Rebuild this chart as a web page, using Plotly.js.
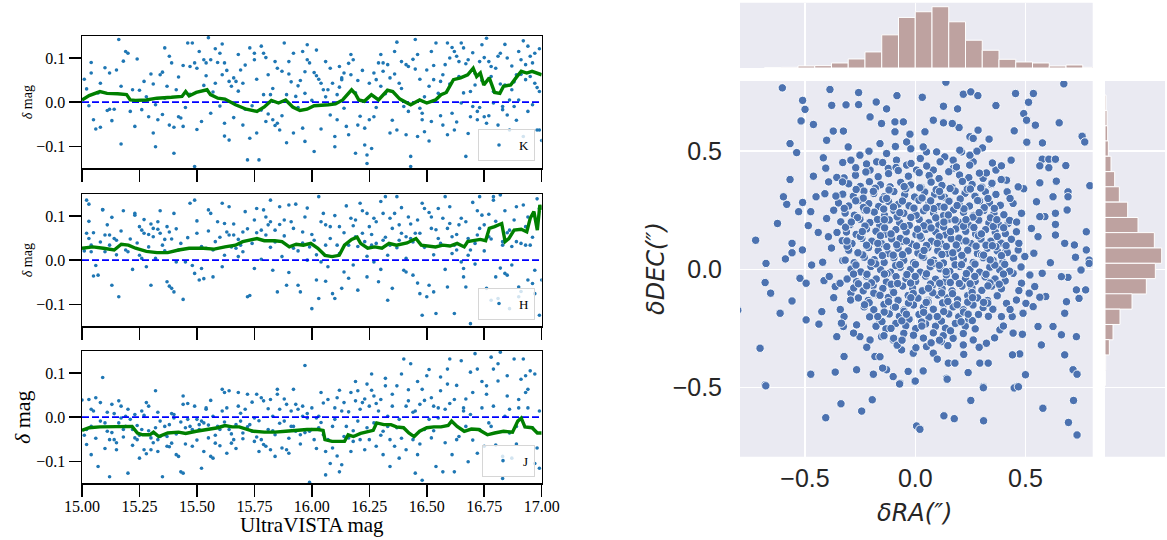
<!DOCTYPE html>
<html>
<head>
<meta charset="utf-8">
<script src="https://cdn.plot.ly/plotly-3.0.1.min.js"></script>
<style>html,body{margin:0;padding:0;background:#fff;}#chart{width:1167px;height:540px;}</style>
</head>
<body>
<div id="chart"></div>
<script>
// ---------------- DATA ----------------
const magTicks = [15.00, 15.25, 15.50, 15.75, 16.00, 16.25, 16.50, 16.75, 17.00];
const deltaTicks = [-0.1, 0.0, 0.1];
const deltaTickText = ['\u22120.1', '0.0', '0.1'];
const offsetTicks = [-0.5, 0.0, 0.5];
const offsetTickText = ['\u22120.5', '0.0', '0.5'];
const bandNames = ['K', 'H', 'J'];

// K band: individual stars
const kMag = [15.02,15.04,15.04,15.05,15.06,15.08,15.08,15.11,15.12,15.12,
15.14,15.15,15.16,15.17,15.18,15.19,15.20,15.22,15.23,15.25,
15.26,15.27,15.29,15.30,15.31,15.32,15.32,15.33,15.34,15.35,
15.36,15.36,15.37,15.38,15.39,15.40,15.40,15.41,15.42,15.43,
15.44,15.44,15.46,15.47,15.48,15.49,15.49,15.50,15.51,15.52,
15.53,15.54,15.54,15.55,15.56,15.57,15.58,15.59,15.60,15.61,
15.61,15.62,15.62,15.62,15.64,15.64,15.65,15.66,15.67,15.68,
15.69,15.70,15.70,15.71,15.72,15.73,15.73,15.75,15.75,15.76,
15.77,15.78,15.79,15.79,15.80,15.81,15.81,15.82,15.83,15.84,
15.84,15.85,15.86,15.87,15.88,15.89,15.89,15.90,15.90,15.92,
15.92,15.93,15.94,15.95,15.96,15.96,15.97,15.97,15.98,15.98,
15.99,16.01,16.01,16.02,16.03,16.04,16.05,16.06,16.07,16.08,
16.09,16.10,16.10,16.11,16.11,16.12,16.13,16.13,16.14,16.15,
16.16,16.17,16.17,16.18,16.19,16.20,16.20,16.23,16.23,16.24,
16.24,16.25,16.26,16.27,16.27,16.28,16.29,16.30,16.31,16.31,
16.33,16.34,16.34,16.36,16.37,16.37,16.38,16.39,16.40,16.41,
16.41,16.42,16.43,16.43,16.45,16.45,16.46,16.46,16.47,16.48,
16.48,16.49,16.50,16.51,16.52,16.52,16.53,16.54,16.55,16.56,
16.57,16.58,16.59,16.59,16.60,16.61,16.62,16.62,16.63,16.64,
16.65,16.65,16.66,16.67,16.68,16.69,16.69,16.70,16.71,16.72,
16.72,16.73,16.74,16.75,16.76,16.76,16.77,16.78,16.79,16.79,
16.81,16.82,16.83,16.83,16.84,16.85,16.86,16.86,16.87,16.88,
16.89,16.90,16.90,16.91,16.92,16.93,16.93,16.94,16.95,16.96,
16.97,16.97,16.98,16.99,16.99,
15.01,15.03,15.07,15.10,15.13,15.17,15.21,15.24,15.28,15.31,
15.35,15.38,15.42,15.45,15.47,15.50,15.53,15.56,15.58,15.60,
15.63,15.66,15.68,15.71,15.74,15.76,15.78,15.80,15.83,15.85,
15.87,15.91,15.94,15.97,16.00,16.02,16.04,16.06,16.08,16.12,
16.14,16.16,16.19,16.21,16.22,16.25,16.28,16.30,16.32,16.35,
16.36,16.39,16.42,16.44,16.47,16.49,16.51,16.53,16.56,16.57,
16.60,16.61,16.63,16.64,16.66,16.67,16.68,16.70,16.71,16.73,
16.74,16.75,16.77,16.78,16.80,16.81,16.82,16.84,16.85,16.87,
16.88,16.89,16.91,16.92,16.94,16.95,16.96,16.98,16.99,17.00];
const kDelta = [0.030,0.090,0.066,-0.040,-0.061,-0.057,0.043,-0.019,0.066,-0.016,
-0.016,0.073,0.142,-0.095,0.093,0.115,0.111,0.028,-0.055,0.027,
-0.017,0.047,-0.033,0.064,-0.070,-0.006,-0.101,-0.040,0.062,0.068,
0.123,0.009,0.036,-0.052,0.089,-0.057,-0.116,0.028,-0.033,-0.036,
0.083,-0.055,0.134,0.081,0.134,0.089,-0.146,0.077,0.115,-0.044,
0.096,0.060,0.089,0.146,0.096,0.023,0.043,0.090,0.111,0.132,
0.062,-0.048,0.089,-0.077,0.047,-0.086,0.036,0.055,0.047,0.108,
0.073,0.043,-0.052,-0.016,-0.131,0.123,-0.082,0.096,0.111,-0.070,
-0.131,0.127,0.017,0.111,-0.044,0.062,-0.027,0.017,-0.040,-0.053,
0.092,-0.048,-0.063,0.070,0.134,0.017,-0.092,0.092,0.064,0.111,
-0.070,0.013,0.037,0.049,0.115,-0.059,0.020,-0.089,0.096,0.130,
0.089,-0.112,0.067,0.060,0.052,0.043,0.028,0.092,0.028,0.077,
0.043,-0.078,-0.101,-0.040,0.017,0.081,0.055,0.051,0.066,-0.055,
-0.074,0.108,0.062,0.096,-0.116,0.049,-0.052,-0.059,-0.097,-0.120,
-0.139,-0.040,-0.105,-0.033,0.066,0.051,0.089,0.036,0.070,0.089,
0.085,-0.070,0.055,0.115,0.136,-0.063,0.043,0.092,-0.010,0.085,
-0.074,0.081,-0.123,-0.146,0.142,0.075,0.108,-0.078,-0.014,-0.040,
-0.025,-0.067,0.073,0.036,0.115,-0.044,0.051,0.134,0.020,0.047,
-0.052,0.085,0.134,-0.074,0.100,-0.025,-0.063,0.115,0.104,0.092,
0.134,-0.002,0.123,-0.123,0.096,0.024,-0.033,-0.010,0.039,-0.021,
-0.040,0.092,0.130,-0.033,0.145,-0.048,0.092,0.081,0.024,-0.002,
0.104,0.111,-0.010,-0.017,0.039,0.100,0.005,-0.063,0.028,-0.010,
0.062,0.005,0.115,0.096,-0.078,0.051,0.085,0.127,0.104,-0.006,
0.043,0.111,-0.063,0.024,-0.063,
0.052,-0.008,0.021,0.078,-0.042,0.036,-0.021,0.098,0.012,0.041,
-0.028,0.104,0.057,-0.012,0.018,-0.062,0.038,-0.025,0.121,-0.009,
0.072,-0.035,0.025,0.084,-0.008,0.052,-0.018,0.101,0.031,0.077,
-0.031,0.046,-0.012,0.069,0.004,0.118,-0.061,0.012,-0.029,0.034,
-0.014,0.088,0.021,-0.032,0.072,0.043,-0.012,0.108,0.019,-0.041,
0.064,0.031,-0.021,0.097,0.052,0.012,-0.088,0.083,-0.031,0.062,
0.041,0.124,-0.045,0.058,0.021,0.087,-0.071,0.112,0.065,-0.012,
0.049,0.101,-0.031,0.058,0.077,-0.052,0.041,0.131,-0.029,0.082,
0.046,-0.041,0.063,0.139,-0.021,0.058,0.089,0.033,0.121,-0.087];
// K band running median
const kMedMag = [15.000,15.031,15.078,15.109,15.155,15.194,15.210,15.233,15.280,15.326,
15.389,15.435,15.451,15.466,15.497,15.544,15.559,15.591,15.622,15.668,
15.715,15.761,15.793,15.824,15.855,15.886,15.917,15.948,15.979,16.010,
16.072,16.103,16.134,16.158,16.173,16.189,16.204,16.228,16.259,16.290,
16.313,16.329,16.352,16.383,16.430,16.469,16.500,16.538,16.562,16.585,
16.616,16.647,16.678,16.702,16.717,16.733,16.748,16.772,16.795,16.818,
16.834,16.865,16.888,16.911,16.935,16.958,17.000];
const kMedDelta = [0.005,0.015,0.024,0.020,0.019,0.017,0.005,0.004,0.005,0.009,
0.011,0.013,0.024,0.014,0.022,0.028,0.017,0.009,0.007,-0.006,
-0.016,-0.021,-0.011,0.004,-0.002,0.005,-0.011,-0.019,-0.016,-0.008,
-0.006,-0.004,0.005,0.020,0.028,0.019,0.005,0.002,0.017,0.005,
0.019,0.027,0.024,0.007,-0.006,0.005,-0.002,0.005,0.017,0.022,
0.051,0.055,0.062,0.077,0.058,0.066,0.039,0.055,0.022,0.020,
0.036,0.039,0.055,0.070,0.066,0.070,0.062];

// H band
const hMag = [15.02,15.03,15.02,15.03,15.04,15.04,15.05,15.07,15.09,15.09,
15.10,15.11,15.12,15.12,15.13,15.14,15.15,15.16,15.18,15.19,
15.20,15.23,15.23,15.24,15.25,15.26,15.26,15.27,15.28,15.29,
15.30,15.30,15.31,15.31,15.33,15.33,15.34,15.35,15.36,15.37,
15.37,15.38,15.38,15.39,15.40,15.40,15.41,15.42,15.44,15.45,
15.47,15.49,15.49,15.50,15.51,15.52,15.53,15.54,15.55,15.56,
15.57,15.58,15.59,15.61,15.61,15.62,15.63,15.64,15.65,15.66,
15.67,15.68,15.69,15.70,15.71,15.72,15.73,15.75,15.75,15.76,
15.78,15.79,15.80,15.81,15.82,15.82,15.83,15.84,15.85,15.86,
15.87,15.88,15.89,15.90,15.91,15.92,15.93,15.94,15.95,15.96,
15.97,15.98,15.99,16.00,16.01,16.02,16.03,16.03,16.04,16.05,
16.06,16.06,16.07,16.08,16.09,16.10,16.11,16.12,16.13,16.14,
16.15,16.16,16.17,16.18,16.19,16.19,16.20,16.21,16.22,16.23,
16.24,16.24,16.25,16.26,16.27,16.27,16.28,16.29,16.30,16.31,
16.31,16.32,16.33,16.34,16.34,16.35,16.36,16.37,16.38,16.38,
16.39,16.40,16.41,16.41,16.42,16.43,16.44,16.45,16.46,16.47,
16.48,16.48,16.49,16.50,16.51,16.52,16.52,16.53,16.54,16.55,
16.55,16.57,16.58,16.59,16.59,16.60,16.61,16.62,16.62,16.63,
16.64,16.65,16.66,16.66,16.67,16.68,16.69,16.69,16.71,16.72,
16.72,16.73,16.74,16.75,16.76,16.77,16.78,16.79,16.79,16.80,
16.81,16.82,16.83,16.83,16.84,16.85,16.86,16.86,16.87,16.88,
16.89,16.90,16.90,16.91,16.92,16.93,16.93,16.94,16.95,16.96,
16.97,16.97,16.98,16.99,16.99,17.00,
15.01,15.03,15.05,15.06,15.08,15.10,15.13,15.15,15.17,15.21,
15.22,15.25,15.27,15.29,15.32,15.34,15.36,15.39,15.41,15.43,
15.46,15.48,15.50,15.52,15.55,15.57,15.60,15.62,15.64,15.66,
15.68,15.70,15.72,15.74,15.76,15.78,15.80,15.82,15.84,15.86,
15.88,15.90,15.92,15.94,15.96,15.98,16.00,16.02,16.04,16.06,
16.08,16.10,16.12,16.14,16.16,16.18,16.20,16.22,16.24,16.26,
16.28,16.30,16.32,16.33,16.35,16.37,16.39,16.41,16.43,16.44,
16.46,16.47,16.49,16.51,16.53,16.54,16.56,16.58,16.60,16.61,
16.63,16.65,16.67,16.68,16.70,16.71,16.73,16.75,16.77,16.78,
16.80,16.82,16.84,16.85,16.87,16.89,16.91,16.94,16.96,16.98];
const hDelta = [0.136,0.127,0.061,0.049,0.034,0.019,-0.036,-0.034,0.115,0.114,
0.057,0.080,0.034,0.057,-0.057,0.049,0.045,-0.083,0.112,0.023,
0.019,0.106,0.102,0.039,0.076,0.068,0.004,0.061,-0.015,0.030,
-0.057,0.082,0.053,0.072,0.087,0.070,0.061,0.034,0.047,-0.049,
0.076,0.064,-0.059,-0.064,-0.072,0.106,-0.004,0.023,-0.089,-0.004,
0.129,0.136,-0.030,0.061,-0.045,-0.019,-0.042,0.027,0.114,0.106,
0.023,0.042,0.087,-0.015,0.129,0.083,0.064,0.057,0.030,0.057,
0.027,0.008,0.034,0.064,0.110,-0.083,-0.080,0.091,-0.019,0.117,
0.068,0.114,0.057,0.080,0.087,0.136,-0.023,0.068,-0.072,0.121,
0.008,0.091,-0.057,0.125,0.087,0.027,0.127,-0.057,-0.072,0.064,
0.098,0.000,0.030,-0.110,0.045,-0.045,0.144,-0.087,-0.004,0.106,
0.080,0.034,-0.015,0.076,-0.076,-0.087,0.034,0.076,-0.064,-0.027,
0.123,0.034,0.095,-0.011,0.053,0.091,-0.068,0.129,0.061,0.042,
0.106,-0.038,0.076,0.034,-0.004,0.095,0.038,-0.049,0.133,0.045,
0.106,0.144,-0.091,0.034,0.095,-0.064,0.106,0.144,0.045,0.080,
0.061,-0.023,-0.027,0.053,0.098,0.049,-0.034,0.061,0.091,-0.076,
-0.125,0.129,0.117,-0.083,-0.057,0.072,0.098,-0.072,-0.121,0.049,
0.117,0.095,0.144,-0.061,0.072,0.083,0.053,0.034,-0.121,0.023,
0.080,-0.004,-0.038,-0.019,0.087,0.011,-0.144,0.023,0.038,0.057,
0.112,0.144,0.102,0.080,-0.064,0.053,-0.091,0.136,0.144,-0.038,
-0.087,0.148,0.042,0.034,-0.030,-0.034,-0.110,0.068,-0.011,0.091,
0.042,-0.061,-0.083,0.038,0.125,0.034,0.076,-0.045,0.034,-0.053,
-0.076,-0.023,0.083,0.117,-0.125,-0.045,
0.021,0.088,0.062,-0.012,0.041,0.019,0.097,0.012,0.066,0.048,
-0.021,0.011,0.092,0.058,0.004,0.112,0.021,0.048,0.071,0.038,
0.051,-0.012,0.089,0.031,0.066,-0.038,0.052,0.011,0.121,0.082,
0.047,0.019,0.071,0.038,0.062,0.002,0.098,0.029,0.041,0.081,
0.055,-0.028,0.072,0.021,0.039,0.118,0.058,0.012,0.087,-0.048,
0.049,0.101,0.015,0.062,-0.041,0.078,0.031,0.112,0.009,0.058,
0.087,-0.021,0.052,0.011,0.072,0.028,0.119,0.004,0.082,0.041,
-0.052,0.061,0.029,0.108,0.012,0.069,0.038,-0.021,0.121,0.015,
0.058,0.095,-0.061,0.049,0.131,-0.009,0.072,0.021,0.104,0.048,
0.088,-0.018,0.112,0.062,0.031,0.121,-0.071,0.098,0.052,0.139];
const hMedMag = [15.000,15.047,15.093,15.140,15.171,15.202,15.233,15.280,15.326,15.373,
15.420,15.466,15.528,15.575,15.622,15.668,15.699,15.730,15.761,15.793,
15.839,15.870,15.902,15.932,15.963,15.995,16.026,16.057,16.088,16.119,
16.142,16.173,16.197,16.212,16.243,16.274,16.305,16.336,16.368,16.414,
16.453,16.476,16.507,16.538,16.570,16.601,16.632,16.663,16.678,16.709,
16.733,16.756,16.772,16.795,16.826,16.841,16.857,16.880,16.911,16.935,
16.950,16.966,16.981,16.992,17.000];
const hMedDelta = [0.027,0.030,0.027,0.023,0.036,0.034,0.027,0.020,0.017,0.017,
0.023,0.027,0.027,0.025,0.030,0.034,0.042,0.045,0.049,0.044,
0.044,0.042,0.030,0.036,0.034,0.038,0.027,0.011,0.008,0.011,
0.034,0.047,0.052,0.038,0.027,0.030,0.027,0.038,0.034,0.039,
0.049,0.034,0.032,0.030,0.034,0.032,0.038,0.030,0.042,0.045,
0.047,0.044,0.072,0.076,0.083,0.042,0.049,0.068,0.070,0.064,
0.095,0.110,0.068,0.125,0.114];

// J band
const jMag = [15.00,15.02,15.03,15.04,15.04,15.05,15.06,15.07,15.08,15.09,
15.10,15.11,15.12,15.12,15.13,15.14,15.14,15.15,15.16,15.16,
15.17,15.18,15.19,15.19,15.20,15.21,15.22,15.23,15.23,15.24,
15.25,15.26,15.26,15.27,15.28,15.29,15.30,15.30,15.31,15.32,
15.32,15.33,15.33,15.34,15.35,15.36,15.37,15.37,15.38,15.39,
15.40,15.40,15.41,15.42,15.43,15.44,15.44,15.44,15.45,15.46,
15.47,15.48,15.49,15.50,15.51,15.51,15.52,15.53,15.54,15.54,
15.55,15.56,15.57,15.57,15.58,15.59,15.60,15.61,15.61,15.62,
15.63,15.64,15.64,15.65,15.66,15.67,15.68,15.68,15.69,15.70,
15.71,15.72,15.73,15.74,15.75,15.75,15.76,15.77,15.78,15.78,
15.79,15.80,15.81,15.82,15.82,15.83,15.84,15.85,15.85,15.86,
15.87,15.88,15.89,15.89,15.90,15.91,15.92,15.92,15.93,15.94,
15.95,15.96,15.96,15.97,15.98,15.99,15.99,16.00,16.01,16.02,
16.03,16.03,16.04,16.05,16.06,16.06,16.07,16.08,16.09,16.10,
16.10,16.11,16.12,16.13,16.13,16.14,16.15,16.16,16.17,16.17,
16.18,16.19,16.20,16.20,16.21,16.22,16.23,16.24,16.24,16.25,
16.26,16.27,16.27,16.28,16.29,16.30,16.31,16.31,16.32,16.33,
16.34,16.34,16.35,16.36,16.37,16.38,16.38,16.39,16.40,16.41,
16.41,16.42,16.43,16.44,16.45,16.45,16.46,16.47,16.48,16.48,
16.49,16.50,16.51,16.52,16.52,16.53,16.54,16.55,16.55,16.56,
16.57,16.58,16.59,16.59,16.60,16.61,16.62,16.62,16.63,16.64,
16.65,16.66,16.66,16.67,16.68,16.69,16.69,16.70,16.71,16.72,
16.72,16.73,16.74,16.75,16.76,16.76,16.77,16.78,16.79,16.79,
16.80,16.81,16.82,16.83,16.83,16.84,16.85,16.86,16.86,16.87,
16.88,16.89,16.90,16.90,16.91,16.92,16.93,16.93,16.94,16.95,
16.96,16.97,16.97,16.98,16.99,16.99,
15.01,15.02,15.04,15.06,15.08,15.10,15.11,15.13,15.15,15.17,
15.18,15.20,15.22,15.24,15.25,15.27,15.28,15.29,15.31,15.33,
15.34,15.36,15.38,15.39,15.41,15.43,15.45,15.46,15.48,15.50,
15.52,15.53,15.55,15.56,15.58,15.60,15.62,15.63,15.65,15.67,
15.69,15.70,15.72,15.74,15.76,15.77,15.79,15.81,15.83,15.84,
15.86,15.88,15.90,15.91,15.93,15.95,15.97,15.98,16.00,16.02,
16.04,16.05,16.07,16.09,16.11,16.12,16.14,16.16,16.18,16.19,
16.21,16.23,16.25,16.26,16.28,16.30,16.32,16.33,16.35,16.37,
16.39,16.42,16.44,16.46,16.47,16.49,16.51,16.53,16.56,16.58,
16.60,16.63,16.67,16.70,16.74,16.78,16.81,16.85,16.89,16.94];
const jDelta = [0.039,-0.028,0.040,0.018,-0.085,0.014,0.044,-0.112,0.033,0.090,
-0.013,-0.032,-0.051,-0.135,0.029,0.008,-0.051,-0.074,0.037,-0.013,
0.025,-0.028,-0.021,0.002,-0.127,-0.005,-0.028,-0.047,0.006,-0.051,
-0.093,0.014,-0.028,-0.074,0.033,0.025,-0.047,-0.074,-0.036,-0.024,
0.060,-0.051,-0.078,-0.009,-0.135,-0.040,-0.044,-0.066,-0.017,-0.059,
0.006,-0.002,-0.085,-0.089,-0.124,0.048,0.029,-0.127,-0.024,-0.005,
-0.021,-0.066,0.025,-0.005,-0.028,-0.017,-0.116,-0.013,0.018,0.021,
-0.047,-0.089,-0.093,0.002,-0.059,-0.021,-0.028,0.014,0.063,0.056,
-0.082,-0.028,0.060,-0.059,-0.051,-0.017,0.056,0.025,-0.009,-0.036,
0.018,0.052,-0.017,-0.032,-0.055,-0.002,0.052,-0.078,-0.051,0.044,
0.037,-0.066,-0.028,-0.074,0.040,0.002,-0.040,0.063,0.052,0.018,
-0.070,-0.009,-0.074,0.029,-0.082,0.014,-0.021,0.063,-0.032,0.018,
-0.040,0.002,0.025,0.117,-0.002,-0.032,-0.148,0.021,-0.051,-0.002,
-0.024,0.002,0.056,-0.040,-0.131,-0.078,0.040,-0.105,-0.070,0.021,
-0.005,0.044,-0.124,0.014,-0.108,0.033,-0.021,-0.047,-0.078,0.056,
-0.055,0.037,-0.009,0.060,-0.051,0.033,-0.074,-0.024,0.075,0.025,
0.098,0.048,-0.013,-0.066,0.014,0.040,-0.085,-0.032,0.071,0.002,
-0.051,-0.112,0.025,-0.066,-0.024,-0.005,-0.093,0.098,0.132,0.025,
-0.074,0.037,0.121,-0.051,0.014,-0.127,-0.085,0.029,-0.143,0.063,
-0.028,0.094,-0.005,-0.047,0.044,0.025,-0.112,0.021,-0.002,0.060,
-0.124,0.018,0.075,0.109,0.132,-0.085,-0.124,0.040,-0.051,-0.044,
0.128,0.014,0.021,-0.021,-0.101,0.102,0.006,0.056,0.144,0.109,
-0.082,-0.028,0.021,-0.066,0.071,0.052,-0.013,0.136,0.109,0.025,
-0.063,0.082,0.147,-0.089,-0.139,0.002,0.094,0.018,-0.036,-0.093,
0.132,-0.021,0.040,0.021,0.086,0.132,0.056,0.094,0.063,0.105,
-0.024,-0.105,0.098,-0.070,0.014,-0.116,
-0.041,-0.062,-0.021,-0.048,-0.009,-0.071,0.011,-0.035,-0.058,-0.002,
-0.045,0.018,-0.064,-0.019,-0.041,0.004,-0.083,-0.031,-0.058,0.011,
-0.044,-0.021,-0.067,0.008,-0.038,-0.011,-0.061,0.031,-0.028,-0.052,
-0.009,-0.078,-0.018,0.038,-0.041,-0.065,-0.011,0.021,-0.038,-0.071,
0.009,-0.049,-0.022,0.034,-0.045,-0.008,-0.062,0.019,-0.031,-0.089,
-0.014,0.041,-0.048,-0.021,0.029,-0.061,-0.035,0.008,-0.028,-0.071,
-0.012,0.032,-0.051,-0.021,-0.088,0.061,-0.044,0.012,-0.031,0.081,
0.018,0.041,-0.051,0.061,0.031,-0.041,0.088,-0.021,0.052,0.071,
-0.048,0.062,0.011,0.081,-0.061,0.038,0.108,-0.031,0.091,-0.058,
0.031,0.072,0.041,-0.052,0.081,-0.021,0.121,0.048,-0.061,0.021];
const jMedMag = [15.000,15.031,15.078,15.124,15.171,15.218,15.241,15.264,15.295,15.311,
15.334,15.373,15.420,15.451,15.497,15.544,15.591,15.622,15.653,15.684,
15.715,15.746,15.793,15.839,15.886,15.932,15.979,16.026,16.049,16.057,
16.088,16.119,16.142,16.158,16.181,16.212,16.243,16.267,16.282,16.313,
16.344,16.368,16.399,16.422,16.445,16.469,16.500,16.531,16.562,16.593,
16.608,16.632,16.663,16.694,16.725,16.764,16.795,16.834,16.873,16.896,
16.911,16.927,16.958,16.981,17.000];
const jMedDelta = [-0.030,-0.024,-0.022,-0.022,-0.022,-0.021,-0.036,-0.040,-0.040,-0.034,
-0.044,-0.036,-0.034,-0.037,-0.032,-0.028,-0.024,-0.019,-0.022,-0.022,
-0.028,-0.032,-0.034,-0.034,-0.032,-0.030,-0.028,-0.028,-0.030,-0.051,
-0.055,-0.055,-0.055,-0.040,-0.044,-0.037,-0.034,-0.030,-0.013,-0.017,
-0.017,-0.022,-0.024,-0.036,-0.044,-0.032,-0.024,-0.022,-0.022,-0.019,
-0.009,-0.021,-0.032,-0.027,-0.028,-0.040,-0.036,-0.032,-0.034,-0.009,
-0.002,-0.022,-0.024,-0.036,-0.036];

// Astrometric offsets (arcsec)
const dRA = [-0.603,-0.511,-0.500,-0.518,-0.462,-0.387,-0.379,-0.314,-0.257,-0.257,
-0.177,-0.130,-0.083,0.032,0.139,0.128,0.192,0.218,0.252,0.284,
0.366,0.455,0.536,0.514,0.674,0.492,0.505,0.545,0.449,0.653,
0.757,0.769,0.506,0.577,0.285,0.199,0.128,0.082,0.168,0.335,
0.305,0.366,0.391,0.435,0.576,0.606,0.636,0.565,0.606,0.683,
0.792,0.693,0.693,0.640,0.565,0.492,0.625,0.550,0.636,0.588,
0.636,0.776,0.689,0.636,0.678,0.722,0.776,0.789,0.789,0.727,
0.752,0.693,0.663,0.613,0.576,0.542,0.592,0.731,0.773,0.743,
0.686,0.678,0.625,0.557,0.572,0.663,0.731,0.678,0.716,0.734,
0.500,0.474,0.441,0.486,0.384,0.391,0.459,0.502,0.459,0.308,
0.293,0.331,0.240,0.150,0.142,0.036,-0.002,-0.032,-0.069,-0.100,
-0.130,-0.190,-0.148,-0.183,-0.266,-0.323,-0.363,-0.474,-0.356,-0.326,
-0.424,-0.495,-0.437,-0.613,-0.704,-0.681,-0.656,-0.681,-0.677,-0.724,
-0.625,-0.589,-0.559,-0.559,-0.559,-0.523,-0.495,-0.470,-0.512,-0.485,
-0.511,-0.529,-0.583,-0.598,-0.568,-0.538,-0.568,-0.462,-0.450,-0.474,
-0.417,-0.406,-0.402,-0.372,-0.326,-0.329,-0.304,-0.292,-0.251,-0.323,
-0.356,-0.393,-0.402,-0.394,-0.440,-0.355,-0.329,-0.363,-0.414,-0.341,
-0.292,-0.293,-0.323,-0.335,-0.266,-0.205,-0.251,-0.153,-0.100,-0.062,
-0.009,0.051,0.082,0.119,0.180,0.218,0.263,0.323,0.444,0.440,
0.414,0.489,0.535,0.517,0.565,0.482,0.444,0.520,0.497,0.538,
0.467,0.411,0.527,0.459,0.557,0.482,0.444,0.421,0.565,0.417,
0.414,0.467,0.346,0.308,0.323,0.263,0.248,0.210,0.172,0.134,
0.097,0.051,0.023,-0.039,-0.085,-0.130,-0.122,-0.175,-0.205,0.036,
0.006,0.082,0.172,-0.160,-0.092,-0.039,-0.153,-0.092,-0.054,-0.205,
-0.024,0.044,0.248,0.202,0.263,
-0.678,-0.406,-0.337,-0.243,-0.195,-0.071,0.000,0.006,0.021,0.130,
0.177,0.252,0.309,0.310,0.449,0.468,0.579,0.718,0.695,0.734,0.145,-0.805,
-0.221,-0.148,-0.087,-0.019,0.052,0.113,0.187,0.247,
-0.271,-0.224,-0.168,-0.121,-0.077,-0.031,0.018,0.063,0.108,0.152,0.201,0.243,0.291,
-0.302,-0.249,-0.208,-0.158,-0.114,-0.066,-0.021,0.027,0.072,0.121,0.167,0.214,0.258,0.302,0.348,
-0.329,-0.281,-0.233,-0.188,-0.142,-0.097,-0.048,-0.003,0.043,0.088,0.133,0.181,0.226,0.271,0.318,0.366,
-0.348,-0.302,-0.257,-0.211,-0.166,-0.121,-0.076,-0.028,0.017,0.062,0.108,0.153,0.199,0.246,0.292,0.337,0.386,
-0.318,-0.276,-0.231,-0.186,-0.139,-0.097,-0.052,-0.008,0.038,0.083,0.128,0.174,0.219,0.265,0.311,0.357,0.402,
-0.338,-0.296,-0.251,-0.206,-0.161,-0.118,-0.071,-0.027,0.018,0.061,0.107,0.152,0.197,0.243,0.288,0.334,0.379,0.428,
-0.312,-0.268,-0.221,-0.178,-0.132,-0.088,-0.041,0.003,0.048,0.093,0.138,0.184,0.229,0.274,0.319,0.363,0.409,
-0.331,-0.287,-0.242,-0.197,-0.152,-0.107,-0.062,-0.017,0.028,0.073,0.118,0.163,0.208,0.253,0.298,0.343,0.389,0.436,
-0.302,-0.258,-0.212,-0.168,-0.122,-0.078,-0.032,0.012,0.057,0.102,0.147,0.192,0.238,0.282,0.327,0.372,0.418,
-0.318,-0.277,-0.231,-0.186,-0.141,-0.097,-0.052,-0.007,0.038,0.083,0.128,0.173,0.218,0.263,0.308,0.353,0.398,0.447,
-0.291,-0.247,-0.201,-0.157,-0.112,-0.068,-0.022,0.023,0.068,0.113,0.157,0.202,0.248,0.292,0.338,0.383,0.428,
-0.309,-0.266,-0.221,-0.177,-0.131,-0.087,-0.042,0.002,0.047,0.092,0.137,0.182,0.228,0.272,0.317,0.362,0.408,
-0.279,-0.236,-0.191,-0.147,-0.101,-0.057,-0.012,0.032,0.077,0.122,0.167,0.212,0.257,0.302,0.347,0.391,
-0.258,-0.213,-0.168,-0.122,-0.078,-0.032,0.012,0.058,0.102,0.147,0.192,0.238,0.283,0.328,0.372,
-0.232,-0.188,-0.142,-0.098,-0.052,-0.008,0.037,0.082,0.127,0.172,0.218,0.262,0.308,0.352,
-0.207,-0.163,-0.118,-0.072,-0.028,0.017,0.062,0.107,0.152,0.197,0.242,0.287,0.332,
-0.178,-0.133,-0.088,-0.043,0.002,0.047,0.092,0.137,0.182,0.227,0.272,
-0.142,-0.098,-0.052,-0.008,0.037,0.082,0.127,0.172,0.218,
-0.082,0.003,0.072,0.148,
-0.236,-0.147,-0.058,0.031,0.118,0.204,0.283,
-0.262,-0.171,-0.082,0.004,0.093,0.181,0.262,0.341,
-0.249,-0.158,-0.068,0.022,0.109,0.198,0.287,0.372,
-0.238,-0.149,-0.058,0.031,0.121,0.211,0.301,0.391,
-0.219,-0.128,-0.038,0.051,0.141,0.232,0.321,
-0.188,-0.098,-0.009,0.079,0.169,0.258,
-0.141,-0.051,0.038,0.129,0.219,
-0.268,-0.181,-0.119,-0.043,0.021,0.095,0.158,0.236,0.297,
-0.322,-0.235,-0.143,-0.099,-0.006,0.084,0.131,0.221,0.313,0.359,
-0.316,-0.228,-0.139,-0.052,0.039,0.072,0.129,0.219,0.266,0.354,0.401,
-0.309,-0.221,-0.129,-0.084,0.006,0.051,0.141,0.186,0.276,0.321,0.366,0.412,
-0.269,-0.179,-0.089,0.001,0.091,0.109,0.181,0.271,0.361,0.406,
-0.258,-0.199,-0.109,-0.021,0.069,0.111,0.159,0.249,0.339,0.381,
-0.209,-0.121,-0.031,0.058,0.124,0.148,0.238,0.329,
-0.151,-0.061,0.029,0.119,0.208,0.259,
-0.370,-0.410,-0.380,-0.420,-0.390,-0.370,-0.340,-0.280,-0.220,-0.160,
0.100,0.220,0.290,0.360,0.400,0.430,0.470,0.480,0.470,0.460,
0.430,0.390,0.350,0.280,-0.020,-0.090,-0.210,-0.270,-0.330,-0.360,
-0.190,-0.050,0.110,0.250,-0.270,-0.130,0.070,0.190,0.330,-0.220,
-0.070,0.050,0.150,0.290,-0.290,-0.140,-0.020,0.130,0.230,0.370,
-0.240,-0.110,0.010,0.160,0.300,-0.310,-0.170,-0.040,0.100,0.230,
0.350,-0.260,-0.100,0.040,0.170,0.310,-0.200,-0.070,0.070,0.210,
0.340,-0.280,-0.140,0.000,0.140,0.270,0.400,-0.220,-0.080,0.060,
0.200,0.330,-0.160,-0.020,0.120,0.260,-0.230,-0.090,0.050,0.190,
0.310,-0.170,-0.040,0.100,0.240,-0.110,0.030,0.160,-0.060,0.110];
const dDEC = [0.768,0.715,0.677,0.628,0.613,0.761,0.694,0.696,0.748,0.697,
0.708,0.679,0.735,0.728,0.792,0.690,0.679,0.741,0.751,0.735,
0.693,0.744,0.744,0.707,0.785,0.659,0.631,0.610,0.586,0.620,
0.563,0.539,0.538,0.535,0.589,0.600,0.620,0.631,0.617,0.551,
0.514,0.420,0.438,0.462,0.466,0.466,0.466,0.438,0.430,0.439,
0.354,0.328,0.307,0.373,0.366,0.341,0.307,0.286,0.237,0.223,
0.190,0.159,0.251,0.145,0.110,0.103,0.082,0.039,0.025,0.051,
-0.003,-0.034,-0.031,0.028,-0.017,-0.073,-0.115,-0.087,-0.087,-0.123,
-0.137,-0.186,-0.242,-0.242,-0.320,-0.277,-0.285,-0.362,-0.425,-0.444,
-0.446,-0.358,-0.362,-0.275,-0.256,-0.200,-0.130,-0.144,-0.496,-0.496,
-0.397,-0.397,-0.437,-0.397,-0.461,-0.430,-0.475,-0.432,-0.482,-0.454,
-0.425,-0.444,-0.418,-0.369,-0.425,-0.369,-0.435,-0.444,-0.285,-0.242,
-0.179,-0.214,-0.232,-0.186,-0.334,-0.489,-0.101,-0.056,0.025,0.123,
0.194,0.044,0.070,0.110,-0.134,-0.038,-0.059,0.018,0.082,0.185,
0.283,0.244,0.275,0.307,0.380,0.494,0.532,0.394,0.307,0.244,
0.472,0.428,0.546,0.585,0.585,0.452,0.518,0.462,0.483,0.387,
0.389,0.370,0.215,0.138,0.156,0.156,0.037,-0.073,-0.048,-0.059,
-0.101,-0.130,-0.200,-0.228,-0.235,-0.299,-0.285,-0.285,-0.299,-0.341,
-0.355,-0.327,-0.355,-0.306,-0.397,-0.320,-0.299,-0.313,-0.270,-0.200,
-0.144,-0.186,-0.158,-0.101,-0.118,-0.059,-0.017,-0.024,0.054,0.068,
0.082,0.075,0.173,0.159,0.138,0.237,0.279,0.194,0.223,0.328,
0.377,0.349,0.359,0.385,0.408,0.455,0.483,0.497,0.462,0.476,
0.497,0.497,0.469,0.441,0.462,0.490,0.427,0.455,0.420,0.518,
0.420,0.420,0.427,0.532,0.582,0.539,0.617,0.624,0.624,0.645,
0.572,0.582,0.561,0.504,0.554,
-0.493,-0.628,-0.569,-0.600,-0.552,-0.485,-0.473,-0.663,-0.677,-0.620,
-0.632,-0.555,-0.501,-0.641,-0.502,-0.497,-0.588,-0.555,-0.648,-0.701,-0.465,-0.173,
0.446,0.452,0.431,0.448,0.437,0.455,0.433,0.441,
0.398,0.412,0.392,0.405,0.418,0.394,0.409,0.397,0.384,0.413,0.399,0.388,0.407,
0.362,0.351,0.371,0.358,0.349,0.368,0.357,0.346,0.369,0.355,0.347,0.372,0.359,0.348,0.364,
0.318,0.309,0.331,0.321,0.307,0.329,0.316,0.306,0.327,0.318,0.305,0.331,0.322,0.309,0.328,0.317,
0.281,0.268,0.291,0.278,0.266,0.287,0.276,0.269,0.292,0.279,0.266,0.288,0.277,0.268,0.289,0.281,0.271,
0.238,0.229,0.251,0.242,0.228,0.249,0.237,0.226,0.248,0.239,0.227,0.252,0.241,0.228,0.249,0.236,0.231,
0.201,0.189,0.212,0.198,0.187,0.209,0.198,0.186,0.211,0.197,0.188,0.212,0.199,0.187,0.208,0.196,0.189,0.207,
0.158,0.148,0.171,0.161,0.149,0.168,0.159,0.147,0.169,0.158,0.146,0.171,0.161,0.149,0.168,0.157,0.151,
0.121,0.109,0.131,0.119,0.108,0.129,0.118,0.107,0.132,0.119,0.108,0.129,0.121,0.109,0.128,0.119,0.111,0.127,
0.081,0.068,0.092,0.079,0.067,0.089,0.078,0.069,0.091,0.079,0.068,0.088,0.081,0.067,0.089,0.078,0.071,
0.039,0.028,0.051,0.041,0.029,0.049,0.038,0.028,0.051,0.039,0.027,0.048,0.041,0.029,0.049,0.038,0.031,0.047,
0.001,-0.011,0.012,-0.002,-0.012,0.009,-0.001,-0.012,0.011,0.002,-0.009,0.012,-0.001,-0.012,0.009,-0.002,-0.008,
-0.041,-0.052,-0.029,-0.041,-0.053,-0.031,-0.039,-0.051,-0.029,-0.042,-0.052,-0.031,-0.039,-0.051,-0.032,-0.041,-0.049,
-0.079,-0.091,-0.069,-0.081,-0.092,-0.071,-0.079,-0.091,-0.069,-0.082,-0.091,-0.071,-0.079,-0.089,-0.071,-0.082,
-0.121,-0.132,-0.109,-0.119,-0.131,-0.111,-0.122,-0.131,-0.109,-0.121,-0.129,-0.111,-0.121,-0.132,-0.112,
-0.159,-0.171,-0.149,-0.161,-0.172,-0.151,-0.161,-0.169,-0.149,-0.159,-0.171,-0.151,-0.162,-0.169,
-0.201,-0.212,-0.189,-0.199,-0.211,-0.191,-0.202,-0.209,-0.189,-0.201,-0.211,-0.191,-0.199,
-0.241,-0.252,-0.229,-0.239,-0.251,-0.231,-0.241,-0.249,-0.229,-0.241,-0.252,
-0.281,-0.292,-0.271,-0.279,-0.291,-0.269,-0.281,-0.292,-0.272,
-0.321,-0.332,-0.311,-0.323,
0.301,0.297,0.289,0.302,0.309,0.298,0.291,
0.219,0.211,0.222,0.229,0.218,0.209,0.221,0.218,
0.139,0.142,0.131,0.141,0.138,0.132,0.142,0.139,
0.061,0.058,0.062,0.057,0.063,0.059,0.061,0.058,
-0.021,-0.018,-0.022,-0.019,-0.023,-0.018,-0.021,
-0.101,-0.098,-0.102,-0.099,-0.103,-0.098,
-0.181,-0.178,-0.182,-0.179,-0.181,
0.338,0.343,0.336,0.341,0.345,0.337,0.342,0.339,0.344,
0.258,0.262,0.255,0.264,0.259,0.257,0.263,0.256,0.261,0.258,
0.178,0.183,0.176,0.181,0.184,0.175,0.179,0.182,0.177,0.181,0.176,
0.098,0.102,0.096,0.104,0.099,0.101,0.097,0.103,0.098,0.102,0.096,0.100,
0.018,0.023,0.016,0.021,0.024,0.017,0.019,0.022,0.018,0.021,
-0.061,-0.057,-0.063,-0.058,-0.062,-0.059,-0.056,-0.061,-0.058,-0.063,
-0.141,-0.137,-0.143,-0.138,-0.142,-0.136,-0.139,-0.143,
-0.221,-0.218,-0.223,-0.219,-0.222,-0.217,
0.250,0.320,0.090,0.030,-0.030,-0.120,-0.170,-0.270,-0.330,-0.370,
-0.380,-0.360,-0.330,-0.290,-0.240,-0.170,-0.090,0.010,0.110,0.200,
0.300,0.380,0.450,0.500,0.510,0.520,0.500,0.430,0.370,0.310,
0.330,0.350,0.330,0.340,0.290,0.300,0.290,0.270,0.300,0.250,
0.240,0.260,0.230,0.240,0.200,0.210,0.220,0.200,0.210,0.210,
0.160,0.150,0.170,0.160,0.150,0.120,0.110,0.120,0.110,0.120,
0.100,0.070,0.060,0.080,0.070,0.060,0.030,0.020,0.030,0.020,
0.040,-0.020,-0.020,-0.030,-0.010,-0.030,-0.020,-0.070,-0.060,-0.080,
-0.060,-0.070,-0.110,-0.120,-0.100,-0.120,-0.150,-0.160,-0.140,-0.150,
-0.140,-0.200,-0.190,-0.200,-0.190,-0.250,-0.240,-0.260,-0.300,-0.300];

// Marginal histograms (bin centre, relative count)
const raBinCentres = [-0.646,-0.570,-0.494,-0.418,-0.342,-0.266,-0.190,-0.114,-0.038,0.038,
0.114,0.190,0.266,0.342,0.418,0.494,0.570,0.646,0.722,0.798];
const raCounts = [1,2,6,7,15,27,48,99,151,168,183,138,83,53,26,18,15,6,9,2];
const decBinCentres = [0.705,0.640,0.575,0.511,0.446,0.381,0.317,0.252,0.187,0.123,
0.058,-0.007,-0.072,-0.136,-0.201,-0.266,-0.330,-0.395,-0.460];
const decCounts = [3,6,8,10,18,29,43,68,99,148,170,151,124,81,45,24,13,2,1];

// ---------------- STYLE / LAYOUT ----------------
const SERIF = 'Liberation Serif';
const SANS = 'Liberation Sans';
const W = 1167, H = 540;
const px = v => v / W, py = v => 1 - v / H;
const leftDom = [px(82), px(541.7)];
const panelDom = [[py(168.3), py(36)], [py(326.3), py(194)], [py(483.3), py(351)]];
const scatXDom = [px(740), px(1092.7)];
const scatYDom = [py(456.7), py(81)];

const magSets = [[kMag, kDelta, kMedMag, kMedDelta], [hMag, hDelta, hMedMag, hMedDelta], [jMag, jDelta, jMedMag, jMedDelta]];
const traces = [];
magSets.forEach((s, i) => {
  const xa = i === 0 ? 'x' : 'x' + (i + 1);
  const ya = i === 0 ? 'y' : 'y' + (i + 1);
  const lg = i === 0 ? 'legend' : 'legend' + (i + 1);
  traces.push({type: 'scatter', mode: 'markers', x: s[0], y: s[1], xaxis: xa, yaxis: ya,
    name: bandNames[i], legend: lg, showlegend: true,
    marker: {color: '#1f77b4', size: 3.6}, cliponaxis: true, hoverinfo: 'skip'});
  traces.push({type: 'scatter', mode: 'lines', x: [magTicks[0], magTicks[magTicks.length - 1]], y: [0, 0],
    xaxis: xa, yaxis: ya, showlegend: false, line: {color: 'blue', width: 1.7, dash: '7px,3px'}, hoverinfo: 'skip'});
  traces.push({type: 'scatter', mode: 'lines', x: s[2], y: s[3], xaxis: xa, yaxis: ya, showlegend: false,
    line: {color: 'green', width: 3.4}, hoverinfo: 'skip'});
});
traces.push({type: 'scatter', mode: 'markers', x: dRA, y: dDEC, xaxis: 'x4', yaxis: 'y4', showlegend: false,
  marker: {color: '#4C72B0', size: 8.4, line: {color: 'white', width: 0.9}}, hoverinfo: 'skip'});
const histColor = 'rgb(190,162,160)';
traces.push({type: 'bar', x: raBinCentres, y: raCounts, width: 0.076, xaxis: 'x5', yaxis: 'y5', showlegend: false,
  marker: {color: histColor, line: {color: 'white', width: 1}}, hoverinfo: 'skip'});
traces.push({type: 'bar', orientation: 'h', y: decBinCentres, x: decCounts, width: 0.0647, xaxis: 'x6', yaxis: 'y6', showlegend: false,
  marker: {color: histColor, line: {color: 'white', width: 1}}, hoverinfo: 'skip'});

function leftX(anchor, labels) {
  return {domain: leftDom, anchor: anchor, range: [15, 17], tickvals: magTicks, tickformat: '.2f',
    ticks: 'outside', ticklen: 12, tickwidth: 1.5, tickcolor: 'black', ticklabelstandoff: -4,
    showline: true, linecolor: 'black', linewidth: 1.5, mirror: true,
    showgrid: false, zeroline: false, showticklabels: labels,
    tickfont: {family: SERIF, size: 16, color: 'black'}};
}
function leftY(dom, anchor) {
  return {domain: dom, anchor: anchor, range: [-0.15, 0.15], tickvals: deltaTicks, ticktext: deltaTickText,
    ticks: 'outside', ticklen: 12, tickwidth: 1.5, tickcolor: 'black',
    showline: true, linecolor: 'black', linewidth: 1.5, mirror: true,
    showgrid: false, zeroline: false, tickfont: {family: SERIF, size: 16, color: 'black'}};
}
function legendAt(bottomPx) {
  return {x: px(535), xanchor: 'right', y: py(bottomPx), yanchor: 'bottom',
    bgcolor: 'rgba(255,255,255,0.8)', bordercolor: '#d6d6d6', borderwidth: 1,
    font: {family: SERIF, size: 13, color: 'black'}, itemwidth: 30, tracegroupgap: 0};
}
const sansTick = {family: SANS, size: 25, color: '#262626'};

const layout = {
  width: W, height: H, margin: {l: 0, r: 0, t: 0, b: 0, pad: 0},
  paper_bgcolor: 'white', plot_bgcolor: 'white', showlegend: true,
  xaxis: leftX('y', false), yaxis: leftY(panelDom[0], 'x'),
  xaxis2: leftX('y2', false), yaxis2: leftY(panelDom[1], 'x2'),
  xaxis3: leftX('y3', true), yaxis3: leftY(panelDom[2], 'x3'),
  xaxis4: {domain: scatXDom, anchor: 'y4', range: [-0.795, 0.805], tickvals: offsetTicks, ticktext: offsetTickText,
    ticks: 'outside', ticklen: 3, tickcolor: 'rgba(0,0,0,0)', ticklabelstandoff: -4,
    showgrid: true, gridcolor: 'white', gridwidth: 1.5,
    zeroline: false, showline: false, tickfont: sansTick},
  yaxis4: {domain: scatYDom, anchor: 'x4', range: [-0.793, 0.797], tickvals: offsetTicks, ticktext: offsetTickText,
    ticks: 'outside', ticklen: 12, tickcolor: 'rgba(0,0,0,0)', showgrid: true, gridcolor: 'white', gridwidth: 1.5,
    zeroline: false, showline: false, tickfont: sansTick},
  xaxis5: {domain: scatXDom, anchor: 'y5', range: [-0.795, 0.805], tickvals: offsetTicks, showticklabels: false,
    ticks: '', showgrid: true, gridcolor: 'white', gridwidth: 1.5, zeroline: false, showline: false},
  yaxis5: {domain: [py(68), py(2.7)], anchor: 'x5', range: [0, 195], showgrid: false, showticklabels: false,
    ticks: '', zeroline: false, showline: false},
  xaxis6: {domain: [px(1105), px(1165)], anchor: 'y6', range: [0, 180], showgrid: false, showticklabels: false,
    ticks: '', zeroline: false, showline: false},
  yaxis6: {domain: scatYDom, anchor: 'x6', range: [-0.793, 0.797], tickvals: offsetTicks, showticklabels: false,
    ticks: '', showgrid: true, gridcolor: 'white', gridwidth: 1.5, zeroline: false, showline: false},
  legend: legendAt(161), legend2: legendAt(319.6), legend3: legendAt(476.7),
  bargap: 0,
  shapes: ['4', '5', '6'].map(k => ({type: 'rect', xref: 'x' + k + ' domain', yref: 'y' + k + ' domain',
    x0: 0, x1: 1, y0: 0, y1: 1, fillcolor: '#EAEAF2', line: {width: 0}, layer: 'below'})),
  annotations: [
    {text: '<i>δ</i> mag', xref: 'paper', yref: 'paper', x: px(27), y: py(102.2), textangle: -90,
      showarrow: false, xanchor: 'center', yanchor: 'middle', font: {family: SERIF, size: 14, color: 'black'}},
    {text: '<i>δ</i> mag', xref: 'paper', yref: 'paper', x: px(27), y: py(260.2), textangle: -90,
      showarrow: false, xanchor: 'center', yanchor: 'middle', font: {family: SERIF, size: 14, color: 'black'}},
    {text: '<i>δ</i> mag', xref: 'paper', yref: 'paper', x: px(22), y: py(417), textangle: -90,
      showarrow: false, xanchor: 'center', yanchor: 'middle', font: {family: SERIF, size: 22, color: 'black'}},
    {text: 'UltraVISTA mag', xref: 'paper', yref: 'paper', x: px(311.9), y: py(524.5),
      showarrow: false, xanchor: 'center', yanchor: 'middle', font: {family: SERIF, size: 21, color: 'black'}},
    {text: '<i>δRA(″)</i>', xref: 'paper', yref: 'paper', x: px(914), y: py(513),
      showarrow: false, xanchor: 'center', yanchor: 'middle', font: {family: 'DejaVu Sans', size: 24, color: '#262626'}},
    {text: '<i>δDEC(″)</i>', xref: 'paper', yref: 'paper', x: px(656), y: py(269), textangle: -90,
      showarrow: false, xanchor: 'center', yanchor: 'middle', font: {family: 'DejaVu Sans', size: 24, color: '#262626'}}
  ]
};

Plotly.newPlot('chart', traces, layout, {staticPlot: true, displayModeBar: false});
</script>
</body>
</html>
